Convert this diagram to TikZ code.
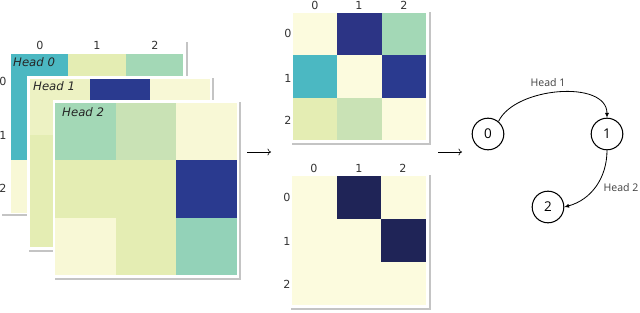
\documentclass[tikz,border=0pt]{standalone}
\usepackage{fontspec}
\setmainfont{DejaVu Sans}
\newfontfamily\graphfont{Open Sans}
\usetikzlibrary{arrows.meta}
\definecolor{cteal}{HTML}{4BB8C2}
\definecolor{cmint}{HTML}{A3D8B6}
\definecolor{cmintb}{HTML}{93D2B8}
\definecolor{cyg}{HTML}{E4EDB3}
\definecolor{cyglt}{HTML}{EDF2C3}
\definecolor{cpale}{HTML}{F8F8D6}
\definecolor{cpalem}{HTML}{FCFBDE}
\definecolor{clg}{HTML}{C9E2B5}
\definecolor{cblue}{HTML}{2A3A8F}
\definecolor{cnavy}{HTML}{2C3485}
\definecolor{cdark}{HTML}{1F2457}
\definecolor{cshadow}{HTML}{C4C4C4}
\newcommand{\hmap}[5]{%
  \foreach \cc [count=\kk from 0] in {#5}{%
    \pgfmathtruncatemacro{\hmr}{div(\kk,3)}%
    \pgfmathtruncatemacro{\hmc}{mod(\kk,3)}%
    \fill[\cc] ({#1+\hmc*#3},{#2+\hmr*#4}) rectangle ++(#3,#4);%
  }}
\newcommand{\panel}[4]{%
  \fill[cshadow] ({#1+2},{#2+2}) rectangle ({#3+2},{#4+2});%
  \fill[white] (#1,#2) rectangle (#3,#4);}
\tikzset{
  tick/.style={font=\fontsize{9.5}{11}\selectfont, text=black!80, inner sep=0pt},
  headlbl/.style={font=\fontsize{10}{12}\selectfont\itshape, text=black!85, anchor=west, inner sep=0pt},
  gnode/.style={circle, draw=black, line width=0.9pt, minimum size=27pt, inner sep=0pt, font=\graphfont\fontsize{11.5}{13}\selectfont},
  glbl/.style={font=\graphfont\fontsize{9}{11}\selectfont, text=black!75, inner sep=0pt},
  gedge/.style={line width=0.7pt, -{Latex[length=4pt,width=3.5pt]}},
  flow/.style={line width=0.5pt, -{To[length=3pt,width=6pt]}}
}
\begin{document}
\begin{tikzpicture}[x=0.03cm,y=-0.03cm]
\useasboundingbox (0,0) rectangle (640,313);
% ---- Head 0
\panel{0}{40}{186}{214}
\hmap{11}{54}{57.3}{53}{cteal,cyg,cmint,cteal,cyg,cyg,cpale,cyg,cyg}
\node[tick] (h0c0) at (40,45) {0};
\node[tick] (h0c1) at (97,45) {1};
\node[tick] (h0c2) at (155,45) {2};
\node[tick] (h0r0) at (3,81) {0};
\node[tick] (h0r1) at (3,135) {1};
\node[tick] (h0r2) at (3,188) {2};
\node[headlbl] (h0l) at (13,62) {Head 0};
% ---- Head 1
\panel{27}{76}{212}{250}
\hmap{30}{79}{60}{56}{cyglt,cblue,cpale,cyg,cyg,cyg,cyg,cyg,cyg}
\node[headlbl] (h1l) at (33,86) {Head 1};
% ---- Head 2
\panel{53}{100}{239}{278}
\hmap{55}{103}{60.7}{57.3}{cmint,clg,cpale,cyg,cyg,cblue,cpale,cyg,cmintb}
\node[headlbl] (h2l) at (62,112) {Head 2};
% ---- Middle top
\panel{290}{10}{429}{143}
\hmap{293}{13}{44.3}{42.3}{cpalem,cnavy,cmint,cteal,cpalem,cblue,cyg,clg,cpalem}
\node[tick] (t0) at (315,5) {0};
\node[tick] (t1) at (359,5) {1};
\node[tick] (t2) at (404,5) {2};
\node[tick] (tr0) at (288,33) {0};
\node[tick] (tr1) at (288,78) {1};
\node[tick] (tr2) at (288,120) {2};
% ---- Middle bottom
\panel{289}{173}{429}{308}
\hmap{292}{176}{44.7}{43}{cpalem,cdark,cpalem,cpalem,cpalem,cdark,cpalem,cpalem,cpalem}
\node[tick] (b0) at (314,168) {0};
\node[tick] (b1) at (359,168) {1};
\node[tick] (b2) at (403,168) {2};
\node[tick] (br0) at (287,197) {0};
\node[tick] (br1) at (287,241) {1};
\node[tick] (br2) at (287,284) {2};
% ---- flow arrows
\coordinate (a1s) at (247,152);
\coordinate (a1e) at (271,152);
\coordinate (a2s) at (438,152);
\coordinate (a2e) at (462,152);
\draw[flow] (a1s) -- (a1e);
\draw[flow] (a2s) -- (a2e);
% ---- graph
\node[gnode] (n0) at (488,134) {0};
\node[gnode] (n1) at (607,134) {1};
\node[gnode] (n2) at (548,207) {2};
\draw[gedge] (n0.50) to[out=65,in=90,looseness=0.9] (n1.north);
\draw[gedge] (n1.south) to[out=-90,in=15,looseness=1] (n2.east);
\node[glbl] (e1) at (548,83) {Head 1};
\node[glbl] (e2) at (621,188) {Head 2};
\end{tikzpicture}
\end{document}
